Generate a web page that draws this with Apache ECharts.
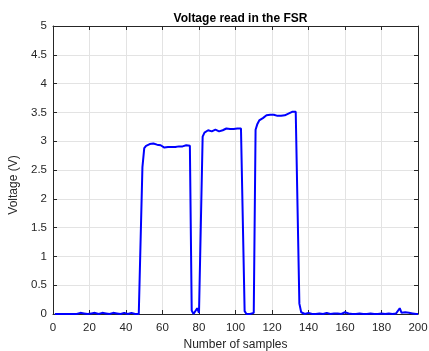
<!DOCTYPE html>
<html>
<head>
<meta charset="utf-8">
<script src="https://cdn.jsdelivr.net/npm/echarts@6/dist/echarts.min.js"></script>
<style>
html,body{margin:0;padding:0;background:#fff;}
#chart{width:429px;height:351px;}
</style>
</head>
<body>
<div id="chart"></div>
<script>
// sample numbers (x) 1..200
const samples = [
  1,2,3,4,5,6,7,8,9,10,11,12,13,14,15,16,17,18,19,20,
  21,22,23,24,25,26,27,28,29,30,31,32,33,34,35,36,37,38,39,40,
  41,42,43,44,45,46,47,48,49,50,51,52,53,54,55,56,57,58,59,60,
  61,62,63,64,65,66,67,68,69,70,71,72,73,74,75,76,77,78,79,80,
  81,82,83,84,85,86,87,88,89,90,91,92,93,94,95,96,97,98,99,100,
  101,102,103,104,105,106,107,108,109,110,111,112,113,114,115,116,117,118,119,120,
  121,122,123,124,125,126,127,128,129,130,131,132,133,134,135,136,137,138,139,140,
  141,142,143,144,145,146,147,148,149,150,151,152,153,154,155,156,157,158,159,160,
  161,162,163,164,165,166,167,168,169,170,171,172,173,174,175,176,177,178,179,180,
  181,182,183,184,185,186,187,188,189,190,191,192,193,194,195,196,197,198,199,200
];
// voltage read (V)
const voltage = [
  0,0,0,0,0,0,0,0,0,0,0,0,0,0.01,0.02,0.03,0.01,0,0,0,
  0.01,0,0.02,0,0,0.01,0.02,0,0.01,0.02,0,0.01,0.02,0,0.01,0.02,0,0.01,0.02,0,
  0,0.01,0.02,0.01,0,0.02,0,0.02,2.55,2.88,2.92,2.9,2.95,2.93,2.96,2.93,2.94,2.95,2.93,2.91,
  2.89,2.89,2.9,2.9,2.9,2.91,2.9,2.91,2.91,2.92,2.91,2.92,2.93,2.92,2.92,0.06,0,0.02,0.1,0.02,
  0,3.08,3.15,3.17,3.19,3.2,3.17,3.19,3.2,3.18,3.17,3.2,3.19,3.21,3.22,3.2,3.21,3.23,3.21,3.2,
  3.22,3.21,3.22,3.22,0.05,0,0,0,0,0.02,3.2,3.3,3.36,3.38,3.4,3.43,3.45,3.45,3.46,3.45,
  3.46,3.45,3.44,3.45,3.44,3.43,3.45,3.46,3.48,3.5,3.51,3.52,3.51,3.51,0.18,0.03,0,0,0.01,0.02,
  0,0,0.01,0,0,0.01,0.01,0,0.01,0.02,0.01,0,0,0.01,0,0.01,0.02,0,0.02,0.03,
  0.02,0.01,0.01,0,0.01,0,0,0.01,0,0,0.01,0,0,0.01,0,0,0.01,0,0,0.01,
  0,0,0,0.01,0,0,0,0.01,0.03,0.1,0.02,0.01,0.03,0.01,0.02,0,0.01,0,0,0
];
const xTickLabels = ['0','20','40','60','80','100','120','140','160','180','200'];
const yTickLabels = ['0','0.5','1','1.5','2','2.5','3','3.5','4','4.5','5'];
const titleText = 'Voltage read in the FSR';
const xName = 'Number of samples';
const yName = 'Voltage (V)';

const FONT = '"Liberation Sans", Arial, Helvetica, sans-serif';
const AX = '#262626';
const GRID = '#e3e3e3';

const chart = echarts.init(document.getElementById('chart'), null, {renderer: 'canvas'});
const commonTick = {show: true, inside: true, length: 4, lineStyle: {color: AX, width: 1}};
chart.setOption({
  animation: false,
  backgroundColor: '#fff',
  title: {
    text: titleText,
    left: 235.5,
    textAlign: 'center',
    top: 8,
    textStyle: {fontFamily: FONT, fontSize: 12, fontWeight: 'bold', color: '#000'}
  },
  grid: {left: 53, right: 11, top: 26, bottom: 37, containLabel: false, outerBoundsMode: 'none'},
  xAxis: [{
    type: 'value', min: 0, max: 200, interval: 20,
    name: xName, nameLocation: 'middle', nameGap: 22,
    nameTextStyle: {fontFamily: FONT, fontSize: 12, color: AX},
    axisLine: {show: true, lineStyle: {color: AX, width: 1}},
    axisTick: commonTick,
    axisLabel: {fontFamily: FONT, fontSize: 11.5, color: AX, margin: 8,
      formatter: v => xTickLabels[Math.round(v / 20)]},
    splitLine: {show: true, lineStyle: {color: GRID, width: 1}}
  }, {
    type: 'value', min: 0, max: 200, interval: 20, position: 'top',
    axisLine: {show: true, onZero: false, lineStyle: {color: AX, width: 1}},
    axisTick: commonTick, axisLabel: {show: false}, splitLine: {show: false}
  }],
  yAxis: [{
    type: 'value', min: 0, max: 5, interval: 0.5,
    name: yName, nameLocation: 'middle', nameGap: 26, nameRotate: 90,
    nameTextStyle: {fontFamily: FONT, fontSize: 12, color: AX, padding: [0, 30, 0, 0]},
    axisLine: {show: true, lineStyle: {color: AX, width: 1}},
    axisTick: commonTick,
    axisLabel: {fontFamily: FONT, fontSize: 11.5, color: AX, margin: 6,
      formatter: v => yTickLabels[Math.round(v / 0.5)]},
    splitLine: {show: true, lineStyle: {color: GRID, width: 1}}
  }, {
    type: 'value', min: 0, max: 5, interval: 0.5, position: 'right',
    axisLine: {show: true, onZero: false, lineStyle: {color: AX, width: 1}},
    axisTick: commonTick, axisLabel: {show: false}, splitLine: {show: false}
  }],
  series: [{
    type: 'line',
    xAxisIndex: 0, yAxisIndex: 0,
    data: samples.map((s, i) => [s, voltage[i]]),
    showSymbol: false,
    symbol: 'none',
    lineStyle: {color: '#0000ff', width: 2},
    z: 3
  }]
});
</script>
</body>
</html>
